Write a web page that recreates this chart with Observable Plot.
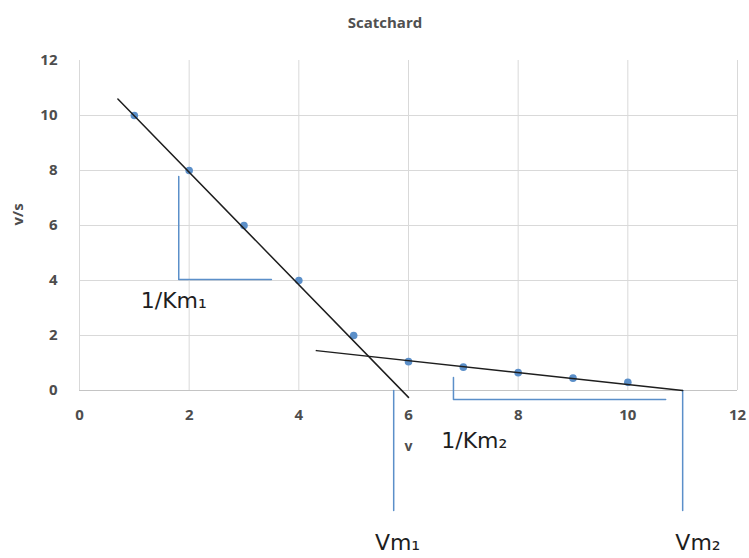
<!DOCTYPE html>
<html>
<head>
<meta charset="utf-8">
<script src="https://cdn.jsdelivr.net/npm/d3@7"></script>
<script src="https://cdn.jsdelivr.net/npm/@observablehq/plot@0.6"></script>
<style>
  html, body { margin: 0; padding: 0; background: #fff; }
  #title { width: 749px; height: 40px; text-align: center; font: 700 15px "Open Sans", sans-serif; line-height: 44px; color: #505050; text-indent: 21px; }
  #chart svg { display: block; }
</style>
</head>
<body>
<div id="title">Scatchard</div>
<div id="chart"></div>
<script>
// Scatchard plot: v/s against v, with two linear fits for two binding sites
const vValues = [1, 2, 3, 4, 5, 6, 7, 8, 9, 10];
const vOverS = [10, 8, 6, 4, 2, 1.05, 0.85, 0.65, 0.45, 0.3];

const xTicks = [0, 2, 4, 6, 8, 10, 12];
const yTicks = [0, 2, 4, 6, 8, 10, 12];
const hGrid = [2, 4, 6, 8, 10];

// fitted lines (endpoints)
const fit1X = [0.7, 6.0];
const fit1Y = [10.6, -0.25];
const fit2X = [4.32, 11.0];
const fit2Y = [1.45, 0];

// construction guides
const km1X = [1.81, 1.81, 3.5];
const km1Y = [7.78, 4.04, 4.04];
const km2X = [6.82, 6.82, 10.69];
const km2Y = [0.47, -0.33, -0.33];
const vm1X = [5.73, 5.73];
const vm1Y = [0, -4.36];
const vm2X = [11.0, 11.0];
const vm2Y = [0, -4.36];

const noteText = ["1/Km₁", "1/Km₂", "Vm₁", "Vm₂"];
const noteX = [1.72, 7.2, 5.8, 11.28];
const noteY = [3.24, -1.85, -5.56, -5.56];

const pts = (xs, ys) => xs.map((x, i) => ({x, y: ys[i]}));
const notes = noteText.map((t, i) => ({t, x: noteX[i], y: noteY[i]}));

const guide = "#5b8fc9";
const ink = "#4d4d4d";

const chart = Plot.plot({
  width: 749,
  height: 518,
  marginTop: 20,
  marginBottom: 168,
  marginLeft: 79,
  marginRight: 12,
  x: {domain: [0, 12]},
  y: {domain: [0, 12]},
  style: {fontFamily: "'Open Sans', sans-serif", fontSize: "15px", fontWeight: 700, color: ink, background: "#fff"},
  marks: [
    Plot.ruleX(xTicks, {y1: 0, y2: 12, stroke: "#d9d9d9", strokeWidth: 1}),
    Plot.ruleY(hGrid, {x1: 0, x2: 12, stroke: "#d9d9d9", strokeWidth: 1}),
    Plot.ruleY([0], {x1: 0, x2: 12, stroke: "#c4c4c4", strokeWidth: 1}),
    Plot.axisX(xTicks, {tickSize: 0, tickPadding: 19, label: null}),
    Plot.axisY(yTicks, {tickSize: 0, tickPadding: 22, label: null}),
    Plot.text(["v"], {frameAnchor: "bottom", dy: 60, fill: ink, fontSize: 14, fontWeight: 700}),
    Plot.text(["v/s"], {frameAnchor: "left", dx: -61, rotate: -90, fill: ink, fontSize: 15, fontWeight: 700}),
    // guides
    Plot.line(pts(km1X, km1Y), {x: "x", y: "y", stroke: guide, strokeWidth: 1.5}),
    Plot.line(pts(km2X, km2Y), {x: "x", y: "y", stroke: guide, strokeWidth: 1.5}),
    Plot.line(pts(vm1X, vm1Y), {x: "x", y: "y", stroke: guide, strokeWidth: 1.5}),
    Plot.line(pts(vm2X, vm2Y), {x: "x", y: "y", stroke: guide, strokeWidth: 1.5}),
    // data
    Plot.dot(pts(vValues, vOverS), {x: "x", y: "y", r: 3.8, fill: "#5b8fc9", stroke: "none"}),
    // fits
    Plot.line(pts(fit1X, fit1Y), {x: "x", y: "y", stroke: "#1e1e1e", strokeWidth: 1.5}),
    Plot.line(pts(fit2X, fit2Y), {x: "x", y: "y", stroke: "#1e1e1e", strokeWidth: 1.5}),
    // annotations
    Plot.text(notes, {x: "x", y: "y", text: "t", fill: "#1e1e1e", fontSize: 22, fontWeight: 400, fontFamily: "'DejaVu Sans', sans-serif", letterSpacing: 5})
  ]
});
document.getElementById("chart").append(chart);
</script>
</body>
</html>
